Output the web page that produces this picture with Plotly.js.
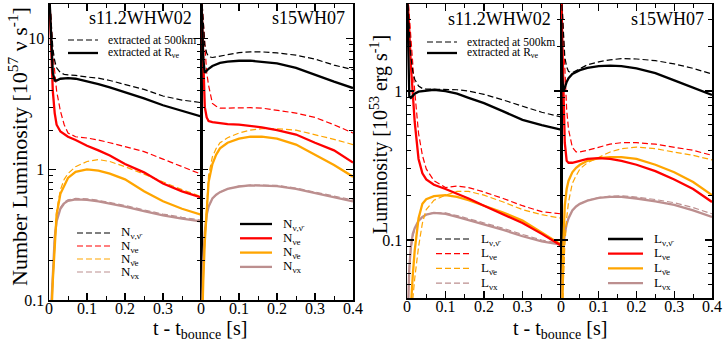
<!DOCTYPE html>
<html>
<head>
<meta charset="utf-8">
<script src="https://cdn.plot.ly/plotly-3.0.1.min.js"></script>
<style>
  body { margin: 0; background: #fff; }
  #plot { width: 723px; height: 341px; }
</style>
</head>
<body>
<div id="plot"></div>
<script>
// time after bounce [s], shared by every curve
var t = [0, 0.003, 0.006, 0.01, 0.015, 0.02, 0.03, 0.04, 0.05, 0.07, 0.1, 0.13, 0.16, 0.2, 0.25, 0.3, 0.35, 0.4];

// number luminosity [1e57 /s], s11.2WHW02
var n11Tot500 = [25, 18, 12, 8.5, 6.8, 6.0, 5.5, 5.35, 5.3, 5.25, 5.1, 5.0, 4.8, 4.5, 4.1, 3.65, 3.4, 3.25];
var n11TotR   = [25, 16, 9, 5.5, 4.8, 4.8, 4.95, 5.0, 5.0, 4.95, 4.75, 4.5, 4.25, 3.9, 3.5, 3.1, 2.8, 2.55];
var n11Nue500 = [25, 19, 13, 8, 5.5, 4.0, 2.8, 2.2, 1.9, 1.78, 1.74, 1.68, 1.6, 1.5, 1.37, 1.2, 1.05, 0.92];
var n11NueR   = [25, 14, 7, 4, 2.7, 2.2, 1.95, 1.85, 1.78, 1.68, 1.52, 1.4, 1.28, 1.1, 0.95, 0.78, 0.68, 0.61];
var n11Anue500 = [0.03, 0.04, 0.07, 0.14, 0.3, 0.48, 0.7, 0.84, 0.93, 1.05, 1.15, 1.19, 1.15, 1.05, 0.92, 0.8, 0.7, 0.62];
var n11AnueR   = [0.03, 0.04, 0.07, 0.14, 0.28, 0.45, 0.65, 0.76, 0.86, 0.96, 1.0, 0.98, 0.93, 0.84, 0.68, 0.57, 0.5, 0.45];
var n11Nux500 = [0.04, 0.06, 0.1, 0.19, 0.31, 0.41, 0.51, 0.56, 0.585, 0.6, 0.595, 0.58, 0.56, 0.53, 0.49, 0.455, 0.43, 0.41];
var n11NuxR   = [0.04, 0.06, 0.1, 0.18, 0.3, 0.4, 0.5, 0.55, 0.575, 0.59, 0.585, 0.57, 0.55, 0.52, 0.48, 0.445, 0.42, 0.40];

// number luminosity [1e57 /s], s15WH07
var n15Tot500 = [25, 18, 12, 9, 7.8, 7.3, 7.2, 7.3, 7.4, 7.6, 7.85, 7.95, 7.95, 7.8, 7.5, 7.0, 6.3, 5.8];
var n15TotR   = [25, 14, 7, 5.5, 5.7, 5.9, 6.2, 6.4, 6.55, 6.7, 6.8, 6.8, 6.7, 6.5, 6.0, 5.3, 4.7, 4.2];
var n15Nue500 = [25, 18, 12, 8, 5.5, 4.4, 3.2, 3.05, 2.95, 2.95, 2.97, 2.97, 2.95, 2.85, 2.7, 2.5, 2.2, 1.9];
var n15NueR   = [25, 12, 5, 3, 2.5, 2.35, 2.3, 2.28, 2.25, 2.22, 2.2, 2.15, 2.1, 2.0, 1.85, 1.6, 1.4, 1.13];
var n15Anue500 = [0.03, 0.08, 0.15, 0.3, 0.55, 0.9, 1.25, 1.45, 1.6, 1.75, 1.9, 2.0, 2.05, 2.05, 2.0, 1.85, 1.7, 1.55];
var n15AnueR   = [0.03, 0.08, 0.14, 0.28, 0.5, 0.8, 1.1, 1.3, 1.45, 1.6, 1.72, 1.78, 1.78, 1.72, 1.55, 1.3, 1.08, 0.88];
var n15Nux500 = [0.03, 0.08, 0.2, 0.33, 0.45, 0.52, 0.6, 0.64, 0.67, 0.71, 0.745, 0.76, 0.76, 0.755, 0.72, 0.675, 0.625, 0.585];
var n15NuxR   = [0.03, 0.08, 0.2, 0.33, 0.45, 0.52, 0.6, 0.64, 0.67, 0.71, 0.74, 0.755, 0.755, 0.745, 0.71, 0.66, 0.61, 0.57];

// luminosity [1e53 erg/s], s11.2WHW02
var l11Tot500 = [5, 3.5, 2.2, 1.7, 1.35, 1.2, 1.08, 1.04, 1.03, 1.03, 1.03, 1.02, 1.0, 0.95, 0.87, 0.79, 0.72, 0.67];
var l11TotR   = [5, 2.0, 0.92, 0.9, 0.93, 0.96, 0.99, 1.0, 1.01, 1.02, 1.0, 0.96, 0.9, 0.83, 0.73, 0.64, 0.59, 0.55];
var l11Nue500 = [5, 4.2, 3.2, 2.3, 1.5, 1.0, 0.52, 0.37, 0.3, 0.25, 0.225, 0.23, 0.225, 0.21, 0.19, 0.17, 0.155, 0.15];
var l11NueR   = [5, 3.8, 2.5, 1.5, 0.95, 0.62, 0.35, 0.28, 0.255, 0.235, 0.22, 0.205, 0.19, 0.17, 0.148, 0.13, 0.11, 0.092];
var l11Anue500 = [0.01, 0.015, 0.02, 0.028, 0.04, 0.055, 0.09, 0.13, 0.16, 0.185, 0.2, 0.212, 0.212, 0.2, 0.18, 0.16, 0.148, 0.14];
var l11AnueR   = [0.01, 0.015, 0.022, 0.035, 0.058, 0.085, 0.14, 0.175, 0.188, 0.197, 0.2, 0.195, 0.185, 0.17, 0.153, 0.135, 0.112, 0.093];
var l11Nux500 = [0.02, 0.04, 0.062, 0.085, 0.105, 0.117, 0.133, 0.142, 0.148, 0.153, 0.152, 0.146, 0.139, 0.13, 0.12, 0.109, 0.1, 0.095];
var l11NuxR   = [0.02, 0.04, 0.065, 0.09, 0.11, 0.12, 0.135, 0.143, 0.148, 0.152, 0.15, 0.143, 0.136, 0.127, 0.117, 0.106, 0.098, 0.093];

// luminosity [1e53 erg/s], s15WH07
var l15Tot500 = [5, 3.5, 2.3, 1.7, 1.45, 1.35, 1.33, 1.37, 1.42, 1.5, 1.57, 1.62, 1.65, 1.64, 1.6, 1.52, 1.42, 1.3];
var l15TotR   = [3, 1.3, 1.0, 1.05, 1.15, 1.22, 1.3, 1.34, 1.38, 1.43, 1.47, 1.48, 1.47, 1.42, 1.32, 1.18, 1.05, 0.94];
var l15Nue500 = [5, 4, 2.5, 1.3, 0.75, 0.55, 0.42, 0.39, 0.39, 0.4, 0.42, 0.44, 0.45, 0.45, 0.44, 0.42, 0.4, 0.37];
var l15NueR   = [5, 2.5, 1.0, 0.45, 0.34, 0.33, 0.33, 0.335, 0.34, 0.35, 0.355, 0.35, 0.34, 0.32, 0.29, 0.255, 0.22, 0.18];
var l15Anue500 = [0.01, 0.025, 0.05, 0.09, 0.14, 0.18, 0.24, 0.27, 0.3, 0.33, 0.36, 0.39, 0.41, 0.42, 0.41, 0.39, 0.37, 0.345];
var l15AnueR   = [0.01, 0.04, 0.09, 0.17, 0.22, 0.25, 0.285, 0.305, 0.32, 0.34, 0.355, 0.36, 0.36, 0.35, 0.32, 0.285, 0.245, 0.2];
var l15Nux500 = [0.02, 0.05, 0.085, 0.11, 0.128, 0.14, 0.158, 0.168, 0.175, 0.185, 0.193, 0.197, 0.198, 0.194, 0.187, 0.178, 0.165, 0.15];
var l15NuxR   = [0.02, 0.05, 0.085, 0.11, 0.128, 0.14, 0.158, 0.168, 0.175, 0.184, 0.192, 0.195, 0.195, 0.19, 0.182, 0.172, 0.158, 0.143];

var colors = ['#000000', '#ff0000', '#ffa500', '#bc8f8f'];
var W = 723, H = 341;
function px(x) { return x / W; }
function py(y) { return 1 - y / H; }
var FONT = 'Liberation Serif';

function line(y, color, dashed, n) {
    return {
        x: t, y: y, type: 'scatter', mode: 'lines',
        xaxis: 'x' + (n > 1 ? n : ''), yaxis: 'y' + (n > 1 ? n : ''),
        line: { color: color, width: dashed ? 1.2 : 2.3, dash: dashed ? '6px,3px' : 'solid' },
        showlegend: false, hoverinfo: 'skip'
    };
}

var panels = [
    [n11Tot500, n11TotR, n11Nue500, n11NueR, n11Anue500, n11AnueR, n11Nux500, n11NuxR],
    [n15Tot500, n15TotR, n15Nue500, n15NueR, n15Anue500, n15AnueR, n15Nux500, n15NuxR],
    [l11Tot500, l11TotR, l11Nue500, l11NueR, l11Anue500, l11AnueR, l11Nux500, l11NuxR],
    [l15Tot500, l15TotR, l15Nue500, l15NueR, l15Anue500, l15AnueR, l15Nux500, l15NuxR]
];
var data = [];
// draw species back to front: nux, anue, nue, total
[3, 2, 1, 0].forEach(function (k) {
    panels.forEach(function (p, i) {
        data.push(line(p[2 * k], colors[k], true, i + 1));
        data.push(line(p[2 * k + 1], colors[k], false, i + 1));
    });
});

function xax(domain, labels, anchor) {
    return {
        domain: domain, range: [0, 0.4], anchor: anchor, showgrid: false, zeroline: false,
        showline: true, linecolor: '#000', linewidth: 1.5, mirror: 'allticks',
        ticks: 'inside', ticklen: 7, tickwidth: 1.2, tickcolor: '#000',
        tickmode: 'array', tickvals: [0, 0.1, 0.2, 0.3, 0.4], ticktext: labels,
        ticklabelstandoff: -7,
        minor: { ticks: 'inside', ticklen: 4, tickwidth: 1, tickcolor: '#000', tickvals: [0.05, 0.15, 0.25, 0.35] },
        tickfont: { family: FONT, size: 16, color: '#000' }
    };
}
function yax(domain, range, vals, text, minor, anchor, show) {
    return {
        domain: domain, type: 'log', range: range, anchor: anchor, showgrid: false, zeroline: false,
        showline: true, linecolor: '#000', linewidth: 1.5, mirror: 'allticks',
        ticks: 'inside', ticklen: 7, tickwidth: 1.2, tickcolor: '#000',
        tickmode: 'array', tickvals: vals, ticktext: text, showticklabels: show,
        minor: { ticks: 'inside', ticklen: 4, tickwidth: 1, tickcolor: '#000', tickvals: minor },
        tickfont: { family: FONT, size: 16, color: '#000' }
    };
}

var yLeft = [py(300), py(4)];
var yRight = [py(298), py(4)];
var minorN = [0.2, 0.3, 0.4, 0.5, 0.6, 0.7, 0.8, 0.9, 2, 3, 4, 5, 6, 7, 8, 9];
var minorL = [0.05, 0.06, 0.07, 0.08, 0.09, 0.2, 0.3, 0.4, 0.5, 0.6, 0.7, 0.8, 0.9, 2, 3];

var ann = [];
var shapes = [];
function txt(x, y, s, size, anchor, extra) {
    var a = { xref: 'paper', yref: 'paper', x: px(x), y: py(y), text: s, showarrow: false,
        xanchor: anchor || 'left', yanchor: 'middle', font: { family: FONT, size: size, color: '#000' } };
    for (var k in extra) a[k] = extra[k];
    ann.push(a);
}
function sample(x0, x1, y, color, dashed) {
    shapes.push({ type: 'line', xref: 'paper', yref: 'paper', x0: px(x0), x1: px(x1), y0: py(y), y1: py(y),
        line: { color: color, width: dashed ? 1.2 : 2.3, dash: dashed ? '6px,3px' : 'solid' } });
}

// axis titles
txt(18, 147, 'Number Luminosity [10<sup>57</sup> ν s<sup>-1</sup>]', 22, 'center', { textangle: -90 });
txt(379, 135, 'Luminosity [10<sup>53</sup> erg s<sup>-1</sup>]', 20, 'center', { textangle: -90 });
txt(200, 329, 't - t<sub>bounce</sub> [s]', 20, 'center');
txt(560, 329, 't - t<sub>bounce</sub> [s]', 20, 'center');

// panel titles
txt(194, 18, 's11.2WHW02', 18, 'right');
txt(347, 18, 's15WH07', 18, 'right');
txt(553, 19, 's11.2WHW02', 18, 'right');
txt(706, 19, 's15WH07', 18, 'right');

// extraction radius keys
var extractKeys = [[68, 98, 40, 53], [427, 457, 42, 53]];
extractKeys.forEach(function (k) {
    sample(k[0], k[1], k[2], '#000', true);
    sample(k[0], k[1], k[3], '#000', false);
    txt(k[1] + 8, k[2], 'extracted at 500km', 11.5, 'left');
    txt(k[1] + 8, k[3], 'extracted at R<sub>νe</sub>', 11.5, 'left');
});

// species keys: [x0, x1, y first row, step, letter, dashed]
var speciesKeys = [
    [77, 110, 233, 13, 'N', true],
    [240, 272, 224, 14.3, 'N', false],
    [436, 470, 239, 14.7, 'L', true],
    [608, 643, 239, 14.7, 'L', false]
];
var subs = ['ν,ν̄', 'νe', 'ν̄e', 'νx'];
speciesKeys.forEach(function (k) {
    for (var i = 0; i < 4; i++) {
        var y = k[2] + i * k[3];
        sample(k[0], k[1], y, colors[i], k[5]);
        txt(k[1] + 9, y, k[4] + '<sub>' + subs[i] + '</sub>', 13, 'left');
    }
});

var layout = {
    width: W, height: H,
    margin: { l: 0, r: 0, t: 0, b: 0 },
    font: { family: FONT, color: '#000' },
    paper_bgcolor: '#fff', plot_bgcolor: '#fff',
    showlegend: false,
    xaxis: xax([px(49), px(201)], ['0', '0.1', '0.2', '0.3', ''], 'y'),
    xaxis2: xax([px(201), px(353)], ['0', '0.1', '0.2', '0.3', '0.4'], 'y2'),
    xaxis3: xax([px(407), px(561)], ['0', '0.1', '0.2', '0.3', ''], 'y3'),
    xaxis4: xax([px(561), px(712)], ['0', '0.1', '0.2', '0.3', '0.4'], 'y4'),
    yaxis: yax(yLeft, [-1, 1.267], [0.1, 1, 10], ['0.1', '1', '10'], minorN, 'x', true),
    yaxis2: yax(yLeft, [-1, 1.267], [0.1, 1, 10], ['', '', ''], minorN, 'x2', false),
    yaxis3: yax(yRight, [-1.389, 0.584], [0.1, 1], ['0.1', '1'], minorL, 'x3', true),
    yaxis4: yax(yRight, [-1.389, 0.584], [0.1, 1], ['', ''], minorL, 'x4', false),
    annotations: ann,
    shapes: shapes
};

Plotly.newPlot('plot', data, layout, { staticPlot: true });
</script>
</body>
</html>
